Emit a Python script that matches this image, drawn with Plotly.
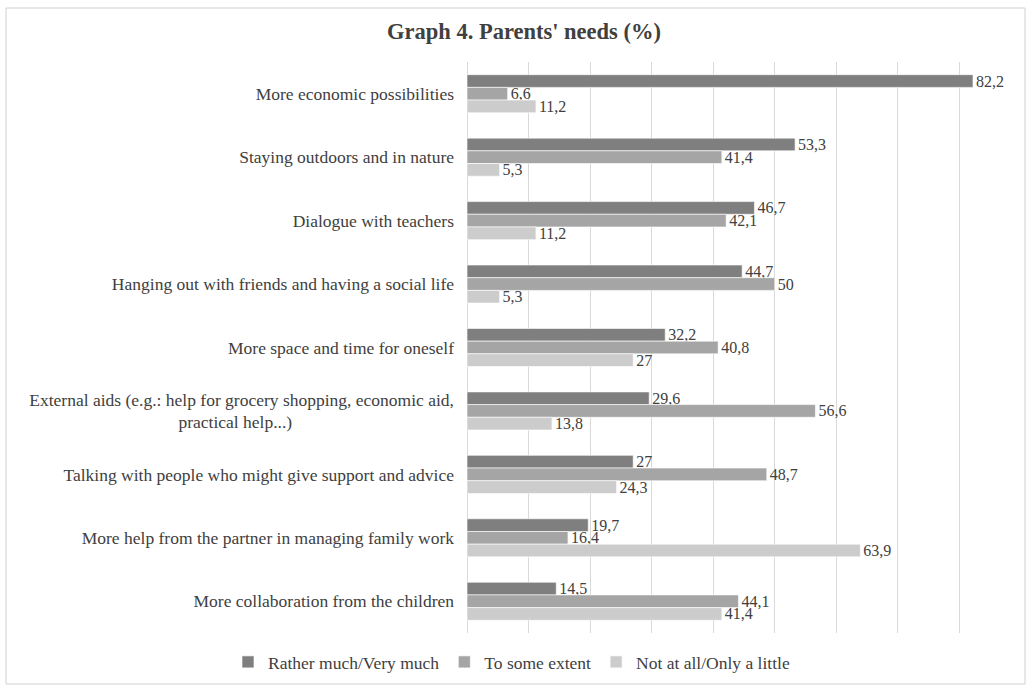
import plotly.graph_objects as go

NBSP = "\u00a0"

categories = [
    "More economic possibilities",
    "Staying outdoors and in nature",
    "Dialogue with teachers",
    "Hanging out with friends and having a social life",
    "More space and time for oneself",
    "External aids (e.g.: help for grocery shopping, economic aid,<br>practical help...)" + NBSP * 37,
    "Talking with people who might give support and advice",
    "More help from the partner in managing family work",
    "More collaboration from the children",
]

series_names = ["Rather much/Very much", "To some extent", "Not at all/Only a little"]
rather_much = [82.2, 53.3, 46.7, 44.7, 32.2, 29.6, 27, 19.7, 14.5]
some_extent = [6.6, 41.4, 42.1, 50, 40.8, 56.6, 48.7, 16.4, 44.1]
not_at_all = [11.2, 5.3, 11.2, 5.3, 27, 13.8, 24.3, 63.9, 41.4]
series_colors = ["#7f7f7f", "#a5a5a5", "#cccccc"]

FONT = "Liberation Serif"
TEXT = "#404040"
FS = 17.5

W, H = 1027, 686
ML, MR, MT, MB = 467, 6, 62, 53


def fmt(v):
    return f"{v:g}".replace(".", ",")


fig = go.Figure()
for name, vals, col in zip(series_names, [rather_much, some_extent, not_at_all], series_colors):
    fig.add_trace(go.Bar(
        y=categories,
        x=vals,
        name=name,
        orientation="h",
        marker=dict(color=col, line=dict(color="white", width=0.6)),
        text=[fmt(v) for v in vals],
        textposition="outside",
        constraintext="none",
        textfont=dict(family=FONT, size=16, color=TEXT),
        cliponaxis=False,
    ))

# paper coordinates for the outer frame
pw = W - ML - MR
ph = H - MT - MB


def px_x(p):
    return (p - ML) / pw


def px_y(p):
    return (H - MB - p) / ph


fig.add_shape(type="rect", xref="paper", yref="paper",
              x0=px_x(6), x1=px_x(1025), y0=px_y(684), y1=px_y(8),
              line=dict(color="#d0d0d0", width=1), fillcolor="rgba(0,0,0,0)", layer="below")

fig.update_layout(
    width=W, height=H,
    margin=dict(l=ML, r=MR, t=MT, b=MB),
    paper_bgcolor="white", plot_bgcolor="white",
    barmode="group", bargap=0.4, bargroupgap=0,
    title=dict(text="<b>Graph 4. Parents' needs (%)</b>", xref="container", x=524 / W,
               xanchor="center", yref="container", y=1 - 31 / H, yanchor="middle",
               font=dict(family=FONT, size=22.5, color=TEXT)),
    font=dict(family=FONT, size=FS, color=TEXT),
    xaxis=dict(range=[0, 90], dtick=10, showticklabels=False, showgrid=True,
               gridcolor="#d9d9d9", gridwidth=1, zeroline=True, zerolinecolor="#d9d9d9",
               zerolinewidth=1, showline=False, ticks=""),
    yaxis=dict(autorange="reversed", showgrid=False, zeroline=False, showline=False,
               ticks="", ticklabelstandoff=12,
               tickfont=dict(family=FONT, size=FS, color=TEXT)),
    legend=dict(orientation="h", x=px_x(228), xanchor="left", y=px_y(662), yanchor="middle",
                font=dict(family=FONT, size=FS, color=TEXT), traceorder="normal",
                itemwidth=30, bgcolor="rgba(0,0,0,0)"),
    showlegend=True,
)

fig.write_html("out.html")
